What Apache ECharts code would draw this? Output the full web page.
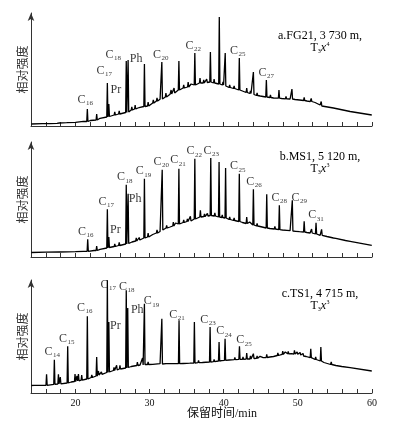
<!DOCTYPE html>
<html><head><meta charset="utf-8">
<script src="https://cdn.jsdelivr.net/npm/echarts@6/dist/echarts.min.js"></script>
<style>html,body{margin:0;padding:0;background:#fff}#c{width:397px;height:433px}</style>
</head><body><div id="c"></div>
<script>
// ---------- axis ----------
const xMin = 14, xMax = 60, xStep = 2;
const xLabelValues = [20, 30, 40, 50, 60];
const yTitle = '相对强度';
const xTitle = '保留时间/min';

// ---------- panel a : FG21 ----------
const baseA_t = [14.05,15.5,16.56,17.5,18.81,20,21.06,22,23.31,24.66,26.01,27.36,28.71,30.06,31.41,32.76,34.11,35.46,36.81,38.16,39.51,40.86,42.21,43.55,44.9,46.25,47.6,48.95,50.3,51.65,53.0,54.8,57.05,59.97];
const baseA_v = [2,2.3,2.3,2.7,3.3,3.7,4.7,5.5,7.7,10,12.7,16,18.7,22,26.7,31.7,36.7,40,42.7,43.7,42,38.7,36,32.7,30,28.3,27.7,27,26,24.3,21,18,14.5,11];
const peakA_t = [17.9,21.6,22.86,24.3,24.5,25.3,25.9,26.85,27.1,27.6,28.05,28.5,29.3,29.8,30.5,31.0,31.65,32.2,32.9,33.3,33.95,34.6,35.2,35.6,36.1,36.8,37.3,37.7,38.2,38.7,39.4,39.9,40.2,40.8,41.4,42.1,42.6,43.1,43.6,44.0,44.5,45.0,45.75,46.3,46.8,47.45,47.9,48.4,49.2,49.7,50.3,50.85,51.3,51.8,52.4,53.15];
const peakA_base = [3,4.5,6,9,9.5,11,12,13.5,14,16,17,18,19.5,20,23,25,27,29,32,33,36,38,39,40,41,43,43,43.5,44,43,42,41,40,38.5,37.5,36,35,33.5,32.5,31.5,30.5,30,29,28.5,28,27.8,27.5,27.2,27,26.5,26,25.5,25,24.5,23.5,20];
const peakA_top = [5,17,12,43,22,14,15,65,66,19,21,20,62,24,26,28,64,33,36,38,65,41,44,42,73,48,46,47,74,47,109,44,73,41,40,68,37,38,35,54,33,32,46,31,30,36,29,29.5,37,28,28,28.5,27,27.5,25.5,24.5];
const labelA_name = ['C16','C17','Pr','C18','Ph','C20','C22','C25','C27'];
const labelA_t = [21.6,24.3,24.5,26.85,27.1,31.65,36.1,42.1,45.75];
const noteA = ['a.FG21, 3 730 m,', 'T', '3', 'x', '4'];

// ---------- panel b : MS1 ----------
const baseB_t = [14.05,16,18,20,21.06,22.5,23.31,24.66,26.01,27.36,28.71,30.06,31.41,32.76,34.11,35.46,36.81,38.16,39.51,40.86,42.21,43.55,44.9,46.25,47.6,48.95,50.3,51.65,53.0,54.8,57.05,59.97];
const baseB_v = [4.5,4.8,5,5.3,5.7,6.5,7.7,9.5,11.5,14,17,21,25.5,30,33.5,36.5,39.5,41.5,40,37.5,35.5,33,30.5,28.5,27.3,26.3,25.3,24,21.7,19,15.7,11.7];
const peakB_t = [17.9,21.65,22.86,24.3,24.5,25.3,25.9,26.85,27.1,27.7,28.2,28.6,29.3,29.8,30.5,31.0,31.7,32.3,33.2,33.5,33.95,34.6,35.1,35.5,36.1,36.85,37.4,37.8,38.25,38.8,39.37,39.8,40.25,40.8,41.4,42.1,42.6,43.1,43.5,44.0,44.5,45.1,45.8,46.3,46.9,47.5,48.0,48.6,49.25,49.8,50.3,50.85,51.3,51.85,52.45,53.2,54.0,55.2,56.5];
const peakB_base = [5,5.7,6.5,9,9.5,10.5,11.5,13,13.5,15,16,17,19,20,22.5,24,27,29,31,32,33,34.5,35.5,36,38,40,40.5,41,41.5,41,40,39.5,39,37.5,36.5,35.5,34.5,33.5,33,32,31,30,29,28.5,28,27.3,27,26.7,26,25.7,25.3,25,24.5,24,23,21.7,20.5,18.7,16.5];
const peakB_top = [6.5,17.7,11,47.7,20,13,14.5,72.3,63.3,17,19,19.5,78.3,24,24.5,27,87.3,31.5,35,34,88.3,37,38,40.7,98.3,46.7,43,43.5,99,44,95,42,89,40,39,83.3,36.5,40,35,67.7,33.5,32,62.7,30.5,30.5,51.7,29,28.5,56.7,27.5,27,35.7,26,28,34.3,27.7,22,20,17.5];
const labelB_name = ['C16','C17','Pr','C18','Ph','C19','C20','C21','C22','C23','C25','C26','C28','C29','C31'];
const labelB_t = [21.65,24.3,24.5,26.85,27.1,29.3,31.7,33.95,36.1,38.25,42.1,44.0,47.5,49.25,52.45];
const noteB = ['b.MS1, 5 120 m,', 'T', '3', 'x', '3'];

// ---------- panel c : TS1 ----------
const baseC_t = [14.05,14.15,14.4,16,17.15,18.95,20,21.06,22.86,23.31,24.3,25.5,26.01,27.36,28.71,30.06,31.41,32.76,34.11,35.46,36.81,38.16,39.51,40.86,42.21,43.55,44.9,46.25,47.6,48.95,50.3,51.65,53.0,54.8,57.05,59.97];
const baseC_v = [7.5,9,7.7,7.7,8.7,10,11.5,13,17.5,18.5,21,23.5,24.3,26.5,28,28.7,29.3,29.3,29.3,29.7,30.3,31,32,33.3,33.7,34,35,36,38.7,39.3,38,35.3,32,27.7,25.3,22];
const peakC_t = [16.1,17.15,17.7,17.95,18.95,19.5,19.94,20.2,20.4,20.84,21.6,22.2,22.86,23.1,23.5,24.3,24.5,25.2,25.55,26.0,26.85,27.05,27.6,28.35,29.05,29.3,29.8,30.5,31.65,32.3,33.2,33.97,34.6,35.1,35.5,36.04,36.6,37.2,38.16,38.7,39.37,39.8,40.18,40.8,41.5,42.12,42.6,43.1,43.6,44.0,44.5,44.9,45.4,45.8,46.3,46.8,47.3,47.96,48.3,48.7,49.0,49.54,49.9,50.3,50.7,51.2,51.74,52.4,53.1,53.6,54.5,55.2,56.0];
const peakC_base = [7.7,8.7,9,9.2,10,11,11.5,12,12.2,12.8,14,15.5,17,18,18.7,20.5,21,22.5,23,24,25,25.5,26.5,27.5,28,28.5,28.5,28.7,29,29.3,29.3,29.3,29.5,29.7,29.8,30,30.3,30.5,31,31.3,32,32.3,32.7,33,33.3,33.7,33.7,34,34,34.5,34.7,35,35.3,35.5,36,36.5,37.5,38.7,39,39.2,39.3,39,38.7,38,37,36.5,35.3,33.5,32,30.5,28.5,27.5,26.5];
const peakC_top = [18.7,33.3,18.7,16,46.7,13,19,17,19,18,76.7,18,36,22,21,112.7,71,25.5,27.7,27.7,102.7,85,28.5,31,35,89.3,31,30.5,74.3,31,30.5,72.7,31.5,31.7,31,71,32.5,32,66,33.5,51,34,54.3,35,35.5,46.7,36,40,37,39.3,37,36.7,37.3,38.7,38,38.5,40,42,41,41.5,41,42.7,41,40.5,39.5,38,44.3,36,46,32,31,29,27.5];
const labelC_name = ['C14','C15','C16','C17','Pr','C18','Ph','C19','C21','C23','C24','C25'];
const labelC_t = [17.15,18.95,21.6,24.3,24.5,26.85,27.05,29.3,33.97,38.16,40.18,42.12];
const noteC = ['c.TS1, 4 715 m,', 'T', '3', 'x', '3'];

// ---------- layout / style (not data) ----------
const PEAK_HALF = 0.08;
const grids = [
  {top: 13, height: 113},
  {top: 142, height: 115},
  {top: 280, height: 113}
];
const labelOffsets = [
  {C16:[-2,-9],C17:[-3,-12],Pr:[7,-14],C18:[-13,-6],Ph:[8,-1],C20:[-1,-7],C22:[-1.5,-7],C25:[-1.5,-7],C27:[0,-7]},
  {C16:[-2,-7],C17:[-1,-7],Pr:[6.5,-7],C18:[-1.5,-7],Ph:[7,5],C19:[-1,-7],C20:[-1,-7.5],C21:[-1,-8],C22:[-0.5,-7],C23:[0.5,-7],C25:[-1.5,-7],C26:[0.5,-7],C28:[0,-7],C29:[7,-2],C31:[0,-7]},
  {C14:[-2,-7.5],C15:[-1,-7],C16:[-2.5,-8],C17:[1,5],Pr:[6.5,4],C18:[0.5,-3],Ph:[9.5,2],C19:[7,-2],C21:[-2,-5],C23:[-2,-7],C24:[-1,-7],C25:[4.5,-5.5]}
];
const notePos = [[320, 36, 48], [320, 157, 169], [320, 294, 306]];

const panels = [
  {bt: baseA_t, bv: baseA_v, pt: peakA_t, pb: peakA_base, ptop: peakA_top, ln: labelA_name, lt: labelA_t, note: noteA},
  {bt: baseB_t, bv: baseB_v, pt: peakB_t, pb: peakB_base, ptop: peakB_top, ln: labelB_name, lt: labelB_t, note: noteB},
  {bt: baseC_t, bv: baseC_v, pt: peakC_t, pb: peakC_base, ptop: peakC_top, ln: labelC_name, lt: labelC_t, note: noteC}
];

function buildTrace(p) {
  const pts = [];
  const n = Math.min(p.bt.length, p.bv.length);
  for (let i = 0; i < n; i++) {
    let near = false;
    for (let j = 0; j < p.pt.length; j++) if (Math.abs(p.pt[j] - p.bt[i]) < 0.12) near = true;
    if (!near) pts.push([p.bt[i], p.bv[i]]);
  }
  const m = Math.min(p.pt.length, p.pb.length, p.ptop.length);
  for (let j = 0; j < m; j++) {
    pts.push([p.pt[j] - PEAK_HALF, p.pb[j]]);
    pts.push([p.pt[j], p.ptop[j]]);
    pts.push([p.pt[j] + PEAK_HALF, p.pb[j]]);
  }
  pts.sort((a, b) => a[0] - b[0]);
  return pts;
}
function fmtLabel(name) {
  const m = name.match(/^C(\d+)$/);
  return m ? '{c|C}{s|' + m[1] + '}' : '{c|' + name + '}';
}
function buildLabels(p, k) {
  const out = [];
  for (let i = 0; i < p.ln.length; i++) {
    let j = p.pt.findIndex(t => Math.abs(t - p.lt[i]) < 0.01);
    if (j < 0) continue;
    out.push({value: [p.pt[j], p.ptop[j]], name: p.ln[i],
      label: {offset: labelOffsets[k][p.ln[i]] || [-1, -8]}});
  }
  return out;
}

const SERIF = '"Liberation Serif", "Times New Roman", serif';
const ink = '#000';
const axisCol = '#333';

const option = {
  animation: false,
  grid: grids.map(g => ({left: 31, right: 25, top: g.top, height: g.height})),
  xAxis: grids.map((g, i) => ({
    type: 'value', gridIndex: i, min: xMin, max: xMax, interval: xStep,
    axisLine: {show: true, onZero: false, lineStyle: {color: axisCol, width: 1}},
    axisTick: {show: true, inside: true, length: 4, lineStyle: {color: axisCol, width: 1}},
    axisLabel: {show: i === 2, margin: 5, fontSize: 10, fontFamily: SERIF, color: '#111',
      formatter: v => xLabelValues.indexOf(v) >= 0 ? String(v) : ''},
    splitLine: {show: false}
  })),
  yAxis: grids.map((g, i) => ({
    type: 'value', gridIndex: i, min: 0, max: g.height,
    axisLine: {show: true, onZero: false, symbol: ['none', 'arrow'], symbolSize: [5, 8], lineStyle: {color: axisCol, width: 1}},
    axisTick: {show: false}, axisLabel: {show: false}, splitLine: {show: false},
    name: yTitle, nameLocation: 'middle', nameGap: 3, nameRotate: 90,
    nameTextStyle: {fontSize: 12, color: '#333', fontFamily: '"Noto Sans CJK SC", sans-serif'}
  })),
  series: [],
  graphic: []
};

panels.forEach((p, k) => {
  option.series.push({
    type: 'line', xAxisIndex: k, yAxisIndex: k, data: buildTrace(p),
    showSymbol: false, symbol: 'none', silent: true,
    lineStyle: {color: '#000', width: 1.3}
  });
  option.series.push({
    type: 'scatter', xAxisIndex: k, yAxisIndex: k, data: buildLabels(p, k),
    symbol: 'circle', symbolSize: 1, itemStyle: {color: 'rgba(0,0,0,0)'}, silent: true,
    label: {show: true, position: 'inside', formatter: d => fmtLabel(d.name),
      rich: {
        c: {fontFamily: SERIF, fontSize: 12, color: ink, verticalAlign: 'top'},
        s: {fontFamily: SERIF, fontSize: 7, color: ink, verticalAlign: 'top', padding: [6, 0, 0, 0.5]}
      }}
  });
  const np = notePos[k];
  option.graphic.push({
    type: 'text', x: np[0], y: np[1], silent: true,
    style: {text: p.note[0], font: '12px ' + SERIF, fill: ink, align: 'center', verticalAlign: 'middle'}
  });
  option.graphic.push({
    type: 'text', x: np[0], y: np[2], silent: true,
    style: {text: '{n|' + p.note[1] + '}{sb|' + p.note[2] + '}{i|' + p.note[3] + '}{sp|' + p.note[4] + '}',
      align: 'center', verticalAlign: 'middle', font: '12px ' + SERIF, fill: ink,
      rich: {
        n: {fontFamily: SERIF, fontSize: 12, fill: ink, verticalAlign: 'top'},
        i: {fontFamily: SERIF, fontSize: 12, fontStyle: 'italic', fill: ink, verticalAlign: 'top'},
        sb: {fontFamily: SERIF, fontSize: 6, fill: ink, verticalAlign: 'top', padding: [7, 0, 0, 0]},
        sp: {fontFamily: SERIF, fontSize: 6, fill: ink, verticalAlign: 'top', padding: [0, 0, 0, 0.5]}
      }}
  });
});
option.graphic.push({
  type: 'text', x: 222, y: 414, silent: true,
  style: {text: xTitle, font: '12px "Liberation Serif", "Noto Sans CJK SC", serif', fill: '#111', align: 'center', verticalAlign: 'middle'}
});

const chart = echarts.init(document.getElementById('c'), null, {renderer: 'canvas'});
chart.setOption(option);
</script>
</body></html>
